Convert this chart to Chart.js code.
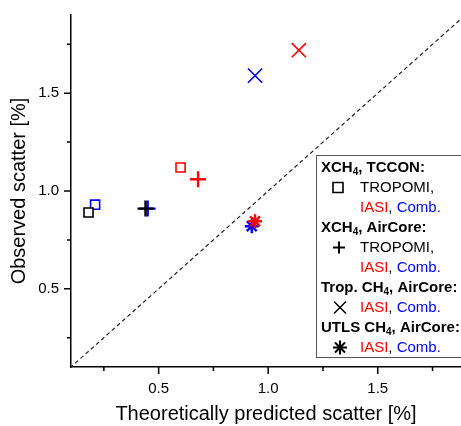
<!DOCTYPE html>
<html>
<head>
<script src="https://cdn.jsdelivr.net/npm/chart.js@4.4.0/dist/chart.umd.min.js"></script>
<style>
    html, body { margin: 0; padding: 0; background: #fff; }
    #wrap { width: 461px; height: 426px; }
</style>
</head>
<body>
<div id="wrap"><canvas id="grafico"></canvas></div>
<script>
    // XCH4, TCCON (squares)
    var tcconTropomi = [{x: 0.18, y: 0.89}];
    var tcconIasi = [{x: 0.60, y: 1.12}];
    var tcconComb = [{x: 0.21, y: 0.93}];
    // XCH4, AirCore (plus)
    var aircoreTropomi = [{x: 0.44, y: 0.91}];
    var aircoreIasi = [{x: 0.68, y: 1.06}];
    var aircoreComb = [{x: 0.45, y: 0.91}];
    // Trop. CH4, AirCore (x)
    var tropIasi = [{x: 1.14, y: 1.72}];
    var tropComb = [{x: 0.94, y: 1.59}];
    // UTLS CH4, AirCore (star)
    var utlsIasi = [{x: 0.94, y: 0.845}];
    var utlsComb = [{x: 0.925, y: 0.82}];
    // 1:1 line
    var oneToOne = [{x: 0, y: 0}, {x: 2, y: 2}];

    var xTicks = [0.25, 0.5, 0.75, 1.0, 1.25, 1.5, 1.75];
    var yTicks = [0.25, 0.5, 0.75, 1.0, 1.25, 1.5, 1.75];

    var FONT = "'Liberation Sans', Arial, sans-serif";
    var RED = '#ff0000', BLUE = '#0000ff', BLACK = '#000000';

    function isMajor(v) {
        return Math.abs(v * 2 - Math.round(v * 2)) < 1e-6;
    }

    function serie(label, pts, style, color, r, bw) {
        return {
            type: 'scatter',
            label: label,
            data: pts,
            pointStyle: style,
            pointRadius: r,
            pointBorderWidth: bw,
            borderColor: color,
            backgroundColor: style === 'rect' ? '#ffffff' : color
        };
    }

    // short outward tick marks, majors longer
    var ticksPlugin = {
        id: 'tickMarks',
        afterDraw: function (chart) {
            var ctx = chart.ctx;
            var xs = chart.scales.x, ys = chart.scales.y;
            var a = chart.chartArea;
            ctx.save();
            ctx.strokeStyle = BLACK;
            ctx.lineWidth = 1.5;
            ctx.beginPath();
            xTicks.forEach(function (v) {
                var px = xs.getPixelForValue(v);
                ctx.moveTo(px, a.bottom);
                ctx.lineTo(px, a.bottom + (isMajor(v) ? 7 : 4));
            });
            yTicks.forEach(function (v) {
                var py = ys.getPixelForValue(v);
                ctx.moveTo(a.left, py);
                ctx.lineTo(a.left - (isMajor(v) ? 7 : 4), py);
            });
            ctx.stroke();
            ctx.restore();
        }
    };

    function simbolo(ctx, tipo, x, y) {
        ctx.save();
        ctx.strokeStyle = BLACK;
        ctx.beginPath();
        if (tipo === 'rect') {
            ctx.lineWidth = 1.6;
            ctx.rect(x - 5, y - 5, 10, 10);
        } else if (tipo === 'cross') {
            ctx.lineWidth = 2;
            ctx.moveTo(x - 6, y); ctx.lineTo(x + 6, y);
            ctx.moveTo(x, y - 6); ctx.lineTo(x, y + 6);
        } else if (tipo === 'crossRot') {
            ctx.lineWidth = 1.5;
            ctx.moveTo(x - 6, y - 6); ctx.lineTo(x + 6, y + 6);
            ctx.moveTo(x - 6, y + 6); ctx.lineTo(x + 6, y - 6);
        } else {
            ctx.lineWidth = 2;
            ctx.moveTo(x - 7, y); ctx.lineTo(x + 7, y);
            ctx.moveTo(x, y - 7); ctx.lineTo(x, y + 7);
            ctx.moveTo(x - 5, y - 5); ctx.lineTo(x + 5, y + 5);
            ctx.moveTo(x - 5, y + 5); ctx.lineTo(x + 5, y - 5);
        }
        ctx.stroke();
        ctx.restore();
    }

    // runs of [text, color, bold, subscript]
    function linha(ctx, x, y, partes) {
        partes.forEach(function (p) {
            var sub = p[3];
            ctx.font = (p[2] ? 'bold ' : '') + (sub ? '10px ' : '15px ') + FONT;
            ctx.fillStyle = p[1];
            ctx.fillText(p[0], x, sub ? y + 5 : y);
            x += ctx.measureText(p[0]).width;
        });
    }

    var legendaPlugin = {
        id: 'legenda',
        afterDraw: function (chart) {
            var ctx = chart.ctx;
            var bx = 316, by = 155, bw = 150, bh = 202;
            ctx.save();
            ctx.fillStyle = '#fff';
            ctx.fillRect(bx, by, bw, bh);
            ctx.strokeStyle = '#555';
            ctx.lineWidth = 1;
            ctx.strokeRect(bx + 0.5, by + 0.5, bw, bh);
            ctx.textBaseline = 'middle';
            ctx.textAlign = 'left';

            var hx = 321, tx = 360, y0 = 167.5, dy = 20;
            var combo = [['IASI', RED], [', ', BLACK], ['Comb.', BLUE]];

            linha(ctx, hx, y0, [['XCH', BLACK, true], ['4', BLACK, true, true], [', TCCON:', BLACK, true]]);
            simbolo(ctx, 'rect', 338, y0 + dy);
            linha(ctx, tx, y0 + dy, [['TROPOMI,', BLACK]]);
            linha(ctx, tx, y0 + 2 * dy, combo);

            linha(ctx, hx, y0 + 3 * dy, [['XCH', BLACK, true], ['4', BLACK, true, true], [', AirCore:', BLACK, true]]);
            simbolo(ctx, 'cross', 339, y0 + 4 * dy);
            linha(ctx, tx, y0 + 4 * dy, [['TROPOMI,', BLACK]]);
            linha(ctx, tx, y0 + 5 * dy, combo);

            linha(ctx, hx, y0 + 6 * dy, [['Trop. CH', BLACK, true], ['4', BLACK, true, true], [', AirCore:', BLACK, true]]);
            simbolo(ctx, 'crossRot', 340, y0 + 7 * dy);
            linha(ctx, tx, y0 + 7 * dy, combo);

            linha(ctx, hx, y0 + 8 * dy, [['UTLS CH', BLACK, true], ['4', BLACK, true, true], [', AirCore:', BLACK, true]]);
            simbolo(ctx, 'star', 340, y0 + 9 * dy);
            linha(ctx, tx, y0 + 9 * dy, combo);
            ctx.restore();
        }
    };

    var ctx = document.getElementById('grafico').getContext('2d');
    var grafico = new Chart(ctx, {
        type: 'scatter',
        data: {
            datasets: [
                serie('TCCON TROPOMI', tcconTropomi, 'rect', BLACK, 6.4, 1.6),
                serie('TCCON IASI', tcconIasi, 'rect', RED, 6.4, 1.6),
                serie('TCCON Comb', tcconComb, 'rect', BLUE, 6.4, 1.6),
                serie('AirCore TROPOMI', aircoreTropomi, 'cross', BLACK, 8, 2.4),
                serie('AirCore IASI', aircoreIasi, 'cross', RED, 8, 2.4),
                serie('AirCore Comb', aircoreComb, 'cross', BLUE, 8, 2.4),
                serie('Trop IASI', tropIasi, 'crossRot', RED, 10, 1.6),
                serie('Trop Comb', tropComb, 'crossRot', BLUE, 10, 1.6),
                serie('UTLS IASI', utlsIasi, 'star', RED, 7, 2.4),
                serie('UTLS Comb', utlsComb, 'star', BLUE, 7, 2.4),
                {
                    type: 'line',
                    label: '1:1',
                    data: oneToOne,
                    borderColor: '#222',
                    borderWidth: 1.2,
                    borderDash: [4, 3],
                    pointRadius: 0,
                    fill: false
                }
            ]
        },
        options: {
            responsive: true,
            maintainAspectRatio: false,
            animation: false,
            events: [],
            layout: { autoPadding: false, padding: { left: 0, right: 0, top: 15, bottom: 0 } },
            plugins: {
                legend: { display: false },
                tooltip: { enabled: false }
            },
            scales: {
                x: {
                    type: 'linear',
                    min: 0.1,
                    max: 1.88,
                    afterBuildTicks: function (s) { s.ticks = xTicks.map(function (v) { return {value: v}; }); },
                    afterFit: function (s) { s.height = 59; s.paddingLeft = 0; s.paddingRight = 0; },
                    grid: { display: false },
                    border: { display: true, color: BLACK, width: 1.5 },
                    ticks: {
                        autoSkip: false,
                        maxRotation: 0,
                        padding: 5,
                        color: BLACK,
                        font: { family: FONT, size: 15 },
                        callback: function (v) { return isMajor(v) ? v.toFixed(1) : ''; }
                    },
                    title: {
                        display: true,
                        text: 'Theoretically predicted scatter [%]',
                        color: BLACK,
                        font: { family: FONT, size: 20 },
                        padding: { top: 0, bottom: 0 }
                    }
                },
                y: {
                    type: 'linear',
                    min: 0.1,
                    max: 1.9,
                    afterBuildTicks: function (s) { s.ticks = yTicks.map(function (v) { return {value: v}; }); },
                    afterFit: function (s) { s.width = 71; s.paddingTop = 0; s.paddingBottom = 0; },
                    grid: { display: false },
                    border: { display: true, color: BLACK, width: 1.5 },
                    ticks: {
                        autoSkip: false,
                        padding: 4,
                        color: BLACK,
                        font: { family: FONT, size: 15 },
                        callback: function (v) { return isMajor(v) ? v.toFixed(1) : ''; }
                    },
                    title: {
                        display: true,
                        text: 'Observed scatter [%]',
                        color: BLACK,
                        font: { family: FONT, size: 20 },
                        padding: { top: 7, bottom: 0 }
                    }
                }
            }
        },
        plugins: [ticksPlugin, legendaPlugin]
    });
</script>
</body>
</html>
